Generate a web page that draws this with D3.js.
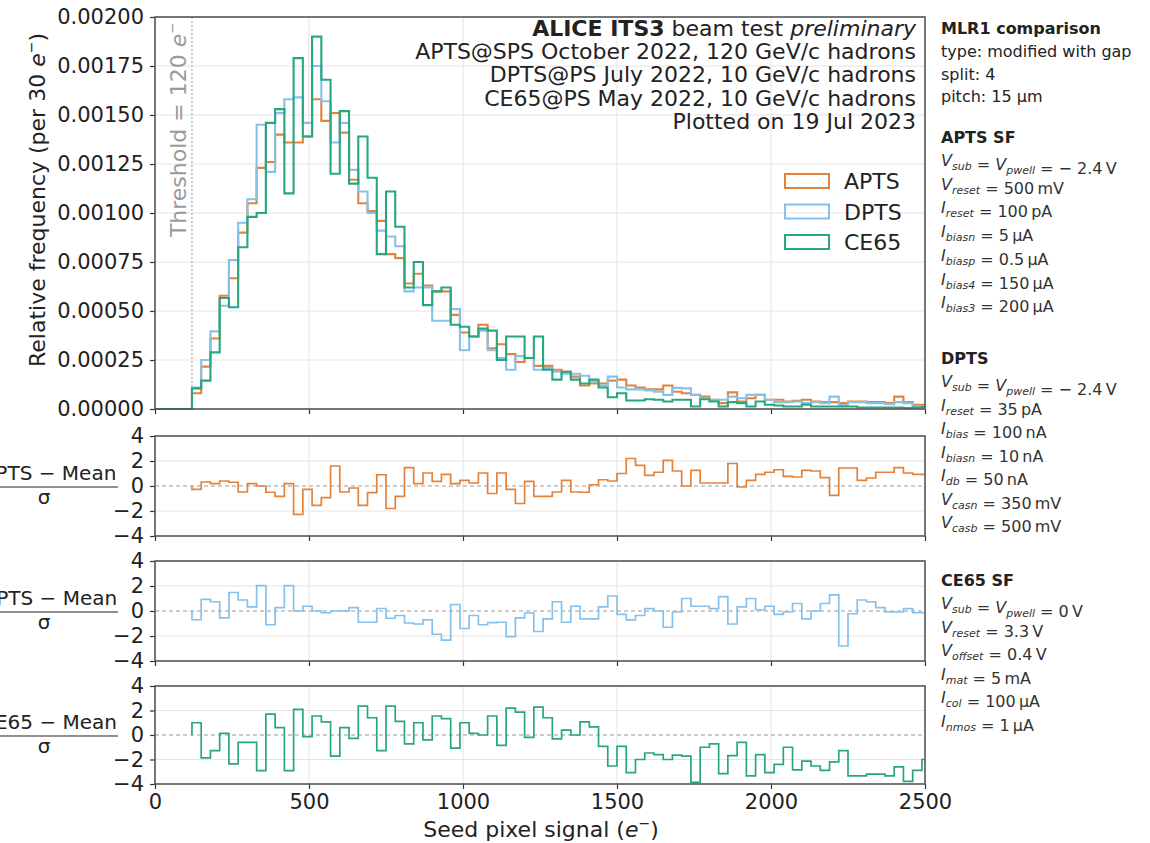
<!DOCTYPE html>
<html>
<head>
<meta charset="utf-8">
<script src="https://cdn.jsdelivr.net/npm/d3@7"></script>
<style>
  body { margin: 0; background: #fff; }
  text { font-family: "DejaVu Sans", sans-serif; }
</style>
</head>
<body>
<div id="chart"></div>
<script>
// histogram bins: 30 e- wide, starting at the 120 e- threshold
var binEdges = d3.range(120, 2521, 30);

// relative frequency per bin
var aptsFreq = [0.00008, 0.000216, 0.00036, 0.000578, 0.000667, 0.0009, 0.00105, 0.00123, 0.00126, 0.0014,
  0.00136, 0.00136, 0.00139, 0.00158, 0.00147, 0.00151, 0.00141, 0.00117, 0.00105, 0.00101,
  0.00096, 0.00079, 0.00077, 0.00064, 0.00069, 0.00063, 0.0006, 0.0006, 0.00048, 0.00039,
  0.00037, 0.00043, 0.00031, 0.00033, 0.00028, 0.00024, 0.00026, 0.00022, 0.00022, 0.0002,
  0.00019, 0.000165, 0.00012, 0.00013, 0.00013, 0.000145, 0.00015, 0.00012, 0.00011, 0.0001,
  0.0001, 0.00012, 0.000088, 0.00008, 0.000072, 0.000063, 0.000047, 0.00003, 0.000085, 0.000038,
  0.000055, 0.000072, 0.000047, 0.000047, 0.000038, 0.000042, 0.000047, 0.000038, 0.000035, 0.000035,
  0.00003, 0.000038, 0.000038, 0.000035, 0.000035, 0.00003, 0.000063, 0.000035, 0.000022, 0.000022];

var dptsFreq = [0.00011, 0.00025, 0.000396, 0.000527, 0.00076, 0.00095, 0.00107, 0.00145, 0.00121, 0.00151,
  0.00158, 0.00159, 0.00146, 0.00175, 0.00157, 0.00136, 0.00146, 0.00122, 0.00111, 0.001,
  0.00091, 0.00088, 0.00083, 0.0006, 0.00062, 0.00062, 0.00045, 0.00045, 0.00051, 0.0003,
  0.00037, 0.0004, 0.0003, 0.00026, 0.0002, 0.00027, 0.00026, 0.0002, 0.00021, 0.00019,
  0.00018, 0.00018, 0.00017, 0.00014, 0.00012, 0.000165, 0.00011, 0.0001, 0.0001, 0.000095,
  0.000088, 0.000072, 0.000108, 0.000105, 0.000072, 0.000055, 0.000047, 0.000047, 0.000063, 0.000055,
  0.000072, 0.000072, 0.000047, 0.000035, 0.000035, 0.000038, 0.00003, 0.000035, 0.00003, 0.000063,
  0.00002, 0.000035, 0.000035, 0.00003, 0.00003, 0.000025, 0.000035, 0.00003, 0.000013, 0.000013];

var ce65Freq = [0.000105, 0.000145, 0.000289, 0.000566, 0.000519, 0.000825, 0.00098, 0.001, 0.00146, 0.00153,
  0.0011, 0.00179, 0.00139, 0.0019, 0.00168, 0.0012, 0.00152, 0.00115, 0.00139, 0.00118,
  0.00079, 0.00111, 0.00093, 0.00062, 0.00075, 0.00053, 0.0006, 0.00062, 0.00043, 0.00042,
  0.00037, 0.00041, 0.0004, 0.00025, 0.00037, 0.00037, 0.00026, 0.00037, 0.0002, 0.00015,
  0.00019, 0.00015, 0.00013, 0.00015, 0.00011, 0.00006, 0.00008, 0.000043, 0.000043, 0.00005,
  0.000047, 0.000038, 0.000047, 0.000047, 0.000013, 0.00005, 0.000038, 0.000013, 0.000035, 0.00003,
  0.000013, 0.000038, 0.000022, 0.000018, 0.000013, 0.000013, 0.000022, 0.000013, 0.000013, 0.000013,
  0.000013, 0.000013, 0.000008, 0.000008, 0.000008, 0.000008, 0.000008, 0.000005, 0.000008, 0.00001];

// (value - mean) / sigma per bin
var aptsPull = [-0.27, 0.32, 0.19, 0.4, 0.3, -0.48, 0.19, 0, -0.5, -0.83,
  0.19, -2.27, -0.27, -1.55, -0.93, 1.6, -0.48, -0.16, -1.55, -0.53,
  0.9, -1.8, -0.83, 1.47, 0.19, 1.04, 0.37, 0.93, 0.19, 0.45,
  0.24, 1.04, -0.6, 1.04, -0.27, -1.4, 0.37, -0.83, -0.83, -0.48,
  0.45, -0.48, -0.5, 0.1, 0.5, 0.4, 1.0, 2.2, 1.65, 0.85,
  1.1, 2.05, 1.2, 0, 1.25, 0.24, 0.24, 0.24, 1.8, -0.08,
  0.45, 0.93, 1.1, 1.3, 0.77, 0.72, 1.25, 1.2, 0.67, -0.75,
  1.44, 1.44, 0.45, 0.64, 1.1, 1.1, 1.47, 1.04, 0.93, 0.93];

var dptsPull = [-0.7, 0.93, 0.74, -0.55, 1.48, 0.88, 0.33, 2.03, -1.1, 0.27,
  2.03, 0, 0.38, 0, -0.14, 0, 0, 0.27, -0.9, -0.9,
  0.2, -0.58, -0.36, -0.96, -1.04, -0.71, -1.86, -2.33, 0.52, -1.4,
  -0.36, -1.1, -0.93, -0.9, -2.05, -0.55, -0.16, -1.64, -0.63, 0.74,
  -0.9, 0.38, -0.63, -0.63, 0.33, 1.2, -0.27, -0.71, -0.36, 0.19,
  0, -1.3, -0.08, 1.0, 0.38, 0.38, 0.19, 1.15, -1.04, 0.33,
  1.0, 0.1, 0.38, -0.27, -0.08, 0.6, -0.63, 0, 0.6, 1.29,
  -2.8, -0.22, 0.88, 0.74, 0.27, -0.08, -0.08, 0.19, -0.14, -0.14];

var ce65Pull = [1.0, -1.87, -1.28, 0.13, -2.35, -0.6, -0.6, -2.9, 1.7, 0.6,
  -2.9, 2.1, -0.13, 1.55, 1.07, -1.73, 0.6, -0.27, 2.35, 1.41,
  -1.28, 2.35, 1.12, -0.72, 1.0, -0.4, 1.55, 1.33, -1.07, 1.0,
  0.13, 0, 1.55, -0.85, 2.2, 1.87, -0.2, 2.27, 1.41, -0.32,
  0.4, 0, 1.07, 0.67, -0.93, -2.53, -0.93, -3.07, -2.0, -1.47,
  -1.6, -2.0, -1.65, -1.73, -3.87, -1.0, -0.72, -3.15, -1.68, -0.61,
  -3.33, -1.6, -3.07, -2.4, -1.0, -2.85, -2.13, -2.53, -2.88, -2.19,
  -1.28, -3.33, -3.33, -3.2, -3.2, -3.33, -2.61, -3.79, -2.88, -2.0];

var seriesNames = ['APTS', 'DPTS', 'CE65'];
var seriesColors = ['#e4823a', '#86c1ec', '#27a77f'];

var xTicks = [0, 500, 1000, 1500, 2000, 2500];
var mainYTicks = [0, 0.00025, 0.0005, 0.00075, 0.001, 0.00125, 0.0015, 0.00175, 0.002];
var pullTicks = [-4, -2, 0, 2, 4];
var threshold = 120;

var headerLines = ['APTS@SPS October 2022, 120 GeV/c hadrons', 'DPTS@PS July 2022, 10 GeV/c hadrons',
  'CE65@PS May 2022, 10 GeV/c hadrons', 'Plotted on 19 Jul 2023'];
var infoLines = ['type: modified with gap', 'split: 4', 'pitch: 15 \u00b5m'];
var aptsSettings = ['V_{sub} = V_{pwell} =  \u2212 2.4\u2009V', 'V_{reset} = 500\u2009mV', 'I_{reset} = 100\u2009pA',
  'I_{biasn} = 5\u2009\u00b5A', 'I_{biasp} = 0.5\u2009\u00b5A', 'I_{bias4} = 150\u2009\u00b5A', 'I_{bias3} = 200\u2009\u00b5A'];
var dptsSettings = ['V_{sub} = V_{pwell} =  \u2212 2.4\u2009V', 'I_{reset} = 35\u2009pA', 'I_{bias} = 100\u2009nA',
  'I_{biasn} = 10\u2009nA', 'I_{db} = 50\u2009nA', 'V_{casn} = 350\u2009mV', 'V_{casb} = 500\u2009mV'];
var ce65Settings = ['V_{sub} = V_{pwell} = 0\u2009V', 'V_{reset} = 3.3\u2009V', 'V_{offset} = 0.4\u2009V',
  'I_{mat} = 5\u2009mA', 'I_{col} = 100\u2009\u00b5A', 'I_{nmos} = 1\u2009\u00b5A'];

// ---- layout
var svg = d3.select('#chart').append('svg')
  .attr('width', 1150)
  .attr('height', 843);

var left = 155, right = 925;
var x = d3.scaleLinear().domain([0, 2500]).range([left, right]);
var yMain = d3.scaleLinear().domain([0, 0.002]).range([409, 17]);
var pullPanels = [[436, 536], [561, 661], [686, 784]];
var pullScales = pullPanels.map(p => d3.scaleLinear().domain([-4, 4]).range([p[1], p[0]]));

var gridColor = '#e4e4e4';
var frameColor = '#555';
var textColor = '#222';
var tickFont = '21px';
var labelFont = '22px';

function addClip(id, top, bottom) {
  svg.append('clipPath').attr('id', id)
    .append('rect')
    .attr('x', left).attr('y', top - 2)
    .attr('width', right - left).attr('height', bottom - top + 4);
}

function drawGrid(y, yVals, top, bottom) {
  var g = svg.append('g');
  g.selectAll('.vg').data(xTicks.slice(1, -1)).enter().append('line')
    .attr('x1', d => x(d)).attr('x2', d => x(d))
    .attr('y1', top).attr('y2', bottom)
    .attr('stroke', gridColor).attr('stroke-width', 1);
  g.selectAll('.hg').data(yVals).enter().append('line')
    .attr('x1', left).attr('x2', right)
    .attr('y1', d => y(d)).attr('y2', d => y(d))
    .attr('stroke', gridColor).attr('stroke-width', 1);
}

function drawAxes(y, yTicks, fmt, top, bottom, showXLabels) {
  var ax = svg.append('g')
    .attr('transform', `translate(${left},0)`)
    .call(d3.axisLeft(y).tickValues(yTicks).tickFormat(fmt).tickSize(5).tickPadding(6));
  var bx = svg.append('g')
    .attr('transform', `translate(0,${bottom})`)
    .call(d3.axisBottom(x).tickValues(xTicks).tickSize(5).tickPadding(5)
      .tickFormat(showXLabels ? d3.format('d') : ''));
  [ax, bx].forEach(function(a) {
    a.select('.domain').remove();
    a.selectAll('line').attr('stroke', '#333').attr('stroke-width', 1.2);
    a.selectAll('text').attr('fill', textColor).style('font-size', tickFont)
      .style('font-family', '"DejaVu Sans", sans-serif');
  });
  svg.append('rect')
    .attr('x', left).attr('y', top)
    .attr('width', right - left).attr('height', bottom - top)
    .attr('fill', 'none').attr('stroke', frameColor).attr('stroke-width', 1.6);
}

var line = d3.line();

function histPoints(vals, baseline) {
  var pts = [[x(0), baseline], [x(binEdges[0]), baseline]];
  vals.forEach(function(v, i) {
    pts.push([x(binEdges[i]), v]);
    pts.push([x(binEdges[i + 1]), v]);
  });
  pts.push([x(binEdges[binEdges.length - 1]), baseline]);
  return pts;
}

// ---- main panel
addClip('clip-main', 17, 409);
drawGrid(yMain, mainYTicks.slice(1, -1), 17, 409);

svg.append('line')
  .attr('x1', x(threshold)).attr('x2', x(threshold))
  .attr('y1', 17).attr('y2', 409)
  .attr('stroke', '#aaa').attr('stroke-width', 1.2)
  .attr('stroke-dasharray', '2,2');

var thr = svg.append('text')
  .attr('transform', `translate(${x(threshold) - 6},22) rotate(-90)`)
  .attr('text-anchor', 'end')
  .attr('fill', '#9a9a9a')
  .style('font-size', labelFont);
thr.append('tspan').text('Threshold = 120 ');
thr.append('tspan').style('font-style', 'italic').text('e');
thr.append('tspan').attr('dy', -9).style('font-size', '14px').text('\u2212');

[aptsFreq, dptsFreq, ce65Freq].forEach(function(vals, k) {
  var pts = histPoints(vals.map(v => yMain(v)), yMain(0));
  svg.append('path')
    .attr('d', line(pts))
    .attr('clip-path', 'url(#clip-main)')
    .attr('fill', 'none')
    .attr('stroke', seriesColors[k])
    .attr('stroke-width', 2.1)
    .attr('stroke-linejoin', 'miter');
});

drawAxes(yMain, mainYTicks, d3.format('.5f'), 17, 409, false);

// y label
var yl = svg.append('text')
  .attr('transform', 'translate(45,200) rotate(-90)')
  .attr('text-anchor', 'middle')
  .attr('fill', textColor)
  .style('font-size', labelFont);
yl.append('tspan').text('Relative frequency (per 30 ');
yl.append('tspan').style('font-style', 'italic').text('e');
yl.append('tspan').attr('dy', -9).style('font-size', '14px').text('\u2212');
yl.append('tspan').attr('dy', 9).text(')');

// header text
var h1 = svg.append('text')
  .attr('x', 916).attr('y', 36)
  .attr('text-anchor', 'end')
  .attr('fill', textColor)
  .style('font-size', labelFont);
h1.append('tspan').style('font-weight', 'bold').text('ALICE ITS3');
h1.append('tspan').text(' beam test ');
h1.append('tspan').style('font-style', 'italic').text('preliminary');

svg.selectAll('.hdr').data(headerLines).enter().append('text')
  .attr('x', 916)
  .attr('y', (d, i) => 59 + i * 23.4)
  .attr('text-anchor', 'end')
  .attr('fill', textColor)
  .style('font-size', labelFont)
  .text(d => d);

// legend
var legend = svg.append('g');
seriesNames.forEach(function(name, k) {
  var cy = 181 + k * 30.5;
  legend.append('rect')
    .attr('x', 785).attr('y', cy - 7)
    .attr('width', 44).attr('height', 14)
    .attr('fill', 'none')
    .attr('stroke', seriesColors[k])
    .attr('stroke-width', 2);
  legend.append('text')
    .attr('x', 844).attr('y', cy + 8)
    .attr('fill', textColor)
    .style('font-size', labelFont)
    .text(name);
});

// ---- pull panels
[aptsPull, dptsPull, ce65Pull].forEach(function(vals, k) {
  var top = pullPanels[k][0], bottom = pullPanels[k][1];
  var y = pullScales[k];
  addClip('clip-p' + k, top, bottom);
  drawGrid(y, [-2, 2], top, bottom);

  svg.append('line')
    .attr('x1', left).attr('x2', right)
    .attr('y1', y(0)).attr('y2', y(0))
    .attr('stroke', '#999').attr('stroke-width', 1)
    .attr('stroke-dasharray', '4,3');

  var pts = [[x(binEdges[0]), y(0)]];
  vals.forEach(function(v, i) {
    pts.push([x(binEdges[i]), y(v)]);
    pts.push([x(binEdges[i + 1]), y(v)]);
  });
  svg.append('path')
    .attr('d', line(pts))
    .attr('clip-path', `url(#clip-p${k})`)
    .attr('fill', 'none')
    .attr('stroke', seriesColors[k])
    .attr('stroke-width', 1.7);

  drawAxes(y, pullTicks, d3.format('d'), top, bottom, k === 2);

  // fraction label
  var cx = 49, cy = y(0);
  svg.append('text')
    .attr('x', cx).attr('y', cy - 6)
    .attr('text-anchor', 'middle')
    .attr('fill', textColor)
    .style('font-size', '20px')
    .text(seriesNames[k] + ' \u2212 Mean');
  svg.append('line')
    .attr('x1', cx - 70).attr('x2', cx + 69)
    .attr('y1', cy + 1).attr('y2', cy + 1)
    .attr('stroke', textColor).attr('stroke-width', 1.2);
  svg.append('text')
    .attr('x', cx - 5).attr('y', cy + 18)
    .attr('text-anchor', 'middle')
    .attr('fill', textColor)
    .style('font-size', '20px')
    .text('\u03c3');
});

// x label
var xl = svg.append('text')
  .attr('x', 541).attr('y', 837)
  .attr('text-anchor', 'middle')
  .attr('fill', textColor)
  .style('font-size', labelFont);
xl.append('tspan').text('Seed pixel signal (');
xl.append('tspan').style('font-style', 'italic').text('e');
xl.append('tspan').attr('dy', -9).style('font-size', '14px').text('\u2212');
xl.append('tspan').attr('dy', 9).text(')');

// ---- side panel
var sideX = 941;
function sideText(y, str, bold) {
  return svg.append('text')
    .attr('x', sideX).attr('y', y)
    .attr('fill', textColor)
    .style('font-size', '16px')
    .style('font-weight', bold ? 'bold' : 'normal')
    .text(str);
}

function mathLine(y, str) {
  var t = svg.append('text')
    .attr('x', sideX).attr('y', y)
    .attr('fill', '#333')
    .style('font-size', '16px');
  var re = /([A-Z])_\{([^}]*)\}/g, last = 0, m;
  while ((m = re.exec(str)) !== null) {
    if (m.index > last) t.append('tspan').text(str.slice(last, m.index));
    t.append('tspan').style('font-style', 'italic').text(m[1]);
    t.append('tspan').style('font-style', 'italic').style('font-size', '11px')
      .attr('dy', 4).text(m[2]);
    t.append('tspan').attr('dy', -4).text('');
    last = re.lastIndex;
  }
  if (last < str.length) t.append('tspan').text(str.slice(last));
}

sideText(34, 'MLR1 comparison', true);
infoLines.forEach((s, i) => sideText(57 + i * 22.5, s, false));

sideText(143, 'APTS SF', true);
aptsSettings.forEach((s, i) => mathLine(166 + i * 23.7, s));

sideText(364, 'DPTS', true);
dptsSettings.forEach((s, i) => mathLine(387 + i * 23.5, s));

sideText(586, 'CE65 SF', true);
ce65Settings.forEach((s, i) => mathLine(609 + i * 23.6, s));
</script>
</body>
</html>
